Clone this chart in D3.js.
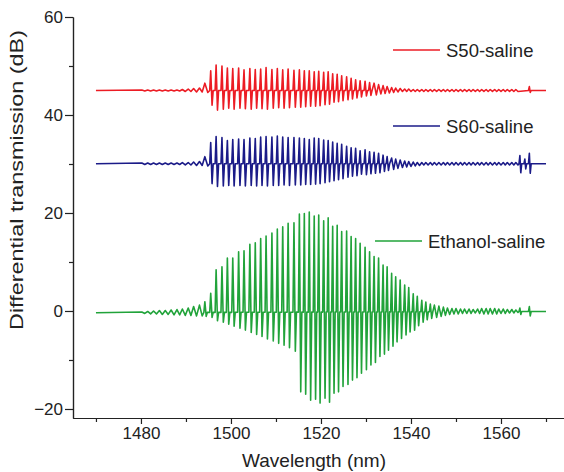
<!DOCTYPE html>
<html><head><meta charset="utf-8">
<script src="https://cdn.jsdelivr.net/npm/d3@7"></script>
<style>
body{margin:0;background:#fff;}
text{font-family:"Liberation Sans",Arial,sans-serif;fill:#222;}
</style>
</head><body>
<svg id="chart" width="564" height="472"></svg>
<script>
// ---- data ----
const xTicks = [1480, 1500, 1520, 1540, 1560];
const xMinorTicks = [1470, 1490, 1510, 1530, 1550, 1570];
const yTicks = [-20, 0, 20, 40, 60];
const yMinorTicks = [-10, 10, 30, 50];
const seriesNames = ["S50-saline", "S60-saline", "Ethanol-saline"];

// fringe peak wavelengths (nm)
const fringeWl = [
1480.2,1481.5,1482.8,1484.1,1485.4,1486.7,1488.0,1489.2,1490.5,1491.7,
1493.0,1494.2,1495.5,1496.7,1498.0,1499.2,1500.4,1501.7,1502.9,1504.2,
1505.4,1506.6,1507.8,1509.1,1510.3,1511.5,1512.7,1514.0,1515.2,1516.3,
1517.4,1518.5,1519.5,1520.6,1521.6,1522.6,1523.6,1524.6,1525.7,1526.7,
1527.7,1528.7,1529.8,1530.8,1531.8,1532.8,1533.8,1534.7,1535.7,1536.6,
1537.6,1538.6,1539.5,1540.5,1541.4,1542.4,1543.3,1544.3,1545.2,1546.2,
1547.2,1548.1,1549.1,1550.0,1551.0,1551.9,1552.9,1553.8,1554.8,1555.7,
1556.7,1557.6,1558.6,1559.5,1560.5,1561.4,1562.4,1563.3];

// S50-saline: fringe maxima / minima (dB)
const s50Hi = [
45.1,45.1,45.1,45.1,45.1,45.1,45.1,45.2,45.3,45.4,
45.5,46.5,49.0,50.2,50.0,49.6,49.5,49.6,49.2,49.5,
49.3,49.4,49.7,49.3,49.5,49.2,49.4,49.1,49.2,49.0,
49.0,48.8,48.9,48.7,48.8,48.4,48.3,48.0,47.8,47.5,
47.2,47.0,46.9,46.6,46.5,46.2,46.0,45.8,45.6,45.5,
45.4,45.3,45.3,45.2,45.2,45.2,45.2,45.2,45.2,45.2,
45.2,45.2,45.2,45.2,45.2,45.2,45.2,45.2,45.2,45.2,
45.2,45.2,45.2,45.2,45.2,45.2,45.2,45.2];
const s50Lo = [
44.9,44.9,44.9,44.9,44.9,44.9,44.9,44.8,44.8,44.7,
44.7,44.6,42.0,41.0,41.2,41.4,41.2,41.4,41.3,41.2,
41.4,41.3,41.2,41.4,41.5,41.4,41.5,41.6,41.6,41.7,
41.8,41.8,41.9,42.1,42.2,42.6,42.7,42.9,43.1,43.3,
43.5,43.7,43.9,44.0,44.1,44.3,44.4,44.5,44.6,44.7,
44.8,44.8,44.8,44.8,44.8,44.8,44.8,44.8,44.8,44.8,
44.8,44.8,44.8,44.8,44.8,44.8,44.8,44.8,44.8,44.8,
44.8,44.8,44.8,44.8,44.8,44.8,44.8,44.8];

// S60-saline
const s60Hi = [
30.2,30.2,30.2,30.2,30.2,30.2,30.2,30.3,30.3,30.4,
30.5,31.5,34.4,35.6,35.4,34.8,35.0,35.1,35.0,35.3,
35.2,35.5,35.6,35.5,35.7,35.5,35.4,35.4,35.3,35.2,
35.0,35.3,35.2,34.9,34.8,34.5,34.2,34.0,33.6,33.3,
33.2,32.7,32.9,32.5,32.4,32.2,31.8,31.5,31.2,31.0,
30.8,30.6,30.5,30.4,30.3,30.3,30.3,30.3,30.3,30.3,
30.3,30.3,30.3,30.3,30.3,30.3,30.3,30.3,30.3,30.3,
30.3,30.3,30.3,30.3,30.3,30.3,30.3,30.3];
const s60Lo = [
29.9,29.9,29.9,29.9,29.9,29.9,29.9,29.8,29.8,29.7,
29.7,29.6,26.0,25.4,25.5,25.6,25.5,25.6,25.5,25.6,
25.5,25.6,25.5,25.6,25.6,25.7,25.6,25.7,25.7,25.8,
25.8,25.9,26.0,26.2,26.4,26.6,26.8,27.0,27.3,27.5,
27.6,27.9,27.8,28.0,28.1,28.2,28.5,28.7,28.9,29.1,
29.3,29.4,29.5,29.6,29.7,29.8,29.8,29.8,29.8,29.8,
29.8,29.8,29.8,29.8,29.8,29.8,29.8,29.8,29.8,29.8,
29.8,29.8,29.8,29.8,29.8,29.8,29.8,29.8];

// Ethanol-saline
const ethHi = [
-0.2,-0.1,0.0,0.1,0.1,0.2,0.3,0.4,0.6,0.9,
1.2,1.9,3.6,8.4,9.0,10.8,10.8,12.1,12.3,13.6,
13.9,14.8,15.3,15.9,16.7,17.2,17.9,18.0,19.8,19.9,
20.2,19.4,19.6,18.4,19.0,17.3,17.5,16.2,16.3,15.2,
14.8,13.8,13.0,12.1,11.1,10.8,9.4,9.0,7.7,7.0,
6.3,5.3,4.8,3.5,3.0,2.2,1.8,1.4,1.2,1.0,
0.8,0.6,0.5,0.5,0.4,0.4,0.4,0.3,0.4,0.5,
0.5,0.5,0.5,0.4,0.4,0.3,0.3,0.2];
const ethLo = [
-0.5,-0.6,-0.6,-0.7,-0.7,-0.8,-0.8,-0.9,-0.9,-1.0,
-1.0,-1.1,-1.3,-2.0,-2.3,-2.7,-3.1,-3.5,-3.9,-4.4,
-4.8,-5.2,-5.7,-6.1,-6.6,-7.0,-7.5,-8.2,-16.5,-17.0,
-18.2,-18.0,-18.8,-17.8,-18.6,-16.8,-16.5,-15.4,-15.0,-14.1,
-13.6,-12.7,-12.0,-11.0,-10.5,-9.3,-8.8,-8.0,-7.2,-6.3,
-5.6,-4.9,-4.3,-3.9,-3.0,-2.3,-1.8,-1.5,-1.3,-1.1,
-0.9,-0.7,-0.6,-0.6,-0.5,-0.5,-0.5,-0.4,-0.5,-0.6,
-0.6,-0.6,-0.6,-0.5,-0.5,-0.4,-0.4,-0.3];

// baseline levels at start / end of scan (dB) and isolated spikes [wl, max, min]
const s50Base = [45.0, 45.0];
const s60Base = [30.05, 30.05];
const ethBase = [-0.35, -0.1];
const s50Spikes = [[1566.3, 45.8, 44.6]];
const s60Spikes = [[1564.2, 31.7, 28.2], [1565.3, 31.0, 29.0], [1566.3, 32.2, 28.1]];
const ethSpikes = [[1564.2, 0.6, -0.7], [1566.3, 0.9, -1.0]];
const scanRange = [1470, 1570];

// ---- chart ----
const svg = d3.select("#chart");
const x = d3.scaleLinear().domain([1464.9, 1574]).range([73, 564]);
const y = d3.scaleLinear().domain([-21.84, 60]).range([418, 17]);

function buildPoints(base, hi, lo, spikes) {
  const baseAt = d3.scaleLinear().domain(scanRange).range(base);
  const pts = [[scanRange[0], base[0]]];
  fringeWl.forEach((w, i) => {
    const next = i < fringeWl.length - 1 ? fringeWl[i + 1] : w + 0.95;
    if (hi[i] - lo[i] > 2.5) {
      // sharp fringe: narrow up/down swing, flat between fringes
      const c = baseAt(w);
      pts.push([w - 0.22, c]);
      pts.push([w, hi[i]]);
      pts.push([w + 0.3, lo[i]]);
      pts.push([w + 0.55, c]);
    } else {
      pts.push([w, hi[i]]);
      pts.push([(w + next) / 2, lo[i]]);
    }
  });
  spikes.forEach(s => {
    pts.push([s[0] - 0.2, base[1]]);
    pts.push([s[0], s[1]]);
    pts.push([s[0] + 0.2, s[2]]);
    pts.push([s[0] + 0.4, base[1]]);
  });
  pts.push([scanRange[1], base[1]]);
  pts.sort((a, b) => a[0] - b[0]);
  return pts;
}

const series = [
  {name: seriesNames[0], color: "#ec1c24", pts: buildPoints(s50Base, s50Hi, s50Lo, s50Spikes)},
  {name: seriesNames[1], color: "#1b1b88", pts: buildPoints(s60Base, s60Hi, s60Lo, s60Spikes)},
  {name: seriesNames[2], color: "#21a33a", pts: buildPoints(ethBase, ethHi, ethLo, ethSpikes)}
];

const line = d3.line().x(d => x(d[0])).y(d => y(d[1]));
series.forEach(s => {
  svg.append("path").attr("d", line(s.pts)).attr("fill", "none")
    .attr("stroke", s.color).attr("stroke-width", 1.6).attr("stroke-linejoin", "round");
});

// axes
const axisColor = "#222";
svg.append("g").attr("transform", "translate(0,418)")
  .call(d3.axisBottom(x).tickValues(xTicks).tickFormat(d3.format("d")).tickSize(6).tickSizeOuter(0).tickPadding(3));
svg.append("g").attr("transform", "translate(0,418)")
  .call(d3.axisBottom(x).tickValues(xMinorTicks).tickFormat("").tickSize(4).tickSizeOuter(0));
svg.append("g").attr("transform", "translate(73,0)")
  .call(d3.axisLeft(y).tickValues(yTicks).tickFormat(d => d < 0 ? "\u2212" + Math.abs(d) : d).tickSize(8).tickSizeOuter(0).tickPadding(2));
svg.append("g").attr("transform", "translate(73,0)")
  .call(d3.axisLeft(y).tickValues(yMinorTicks).tickFormat("").tickSize(4).tickSizeOuter(0));
svg.selectAll(".domain, .tick line").attr("stroke", axisColor).attr("stroke-width", 1.2);
svg.selectAll(".tick text").attr("font-size", 17).attr("fill", "#222")
  .style("font-family", '"Liberation Sans", Arial, sans-serif');

// axis titles
svg.append("text").attr("x", 314).attr("y", 467).attr("text-anchor", "middle")
  .attr("font-size", 19).text("Wavelength (nm)");
svg.append("text").attr("transform", "translate(23,180) rotate(-90)").attr("text-anchor", "middle")
  .attr("font-size", 19).attr("textLength", 300).attr("lengthAdjust", "spacingAndGlyphs")
  .text("Differential transmission (dB)");

// legend entries placed beside their curves
const legendPos = [[393, 50], [393, 126], [375, 241]];
series.forEach((s, i) => {
  const [lx, ly] = legendPos[i];
  svg.append("line").attr("x1", lx).attr("x2", lx + 47).attr("y1", ly).attr("y2", ly)
    .attr("stroke", s.color).attr("stroke-width", 1.4);
  svg.append("text").attr("x", lx + 53).attr("y", ly + 6.5).attr("font-size", 18.5).text(s.name);
});
</script>
</body></html>
